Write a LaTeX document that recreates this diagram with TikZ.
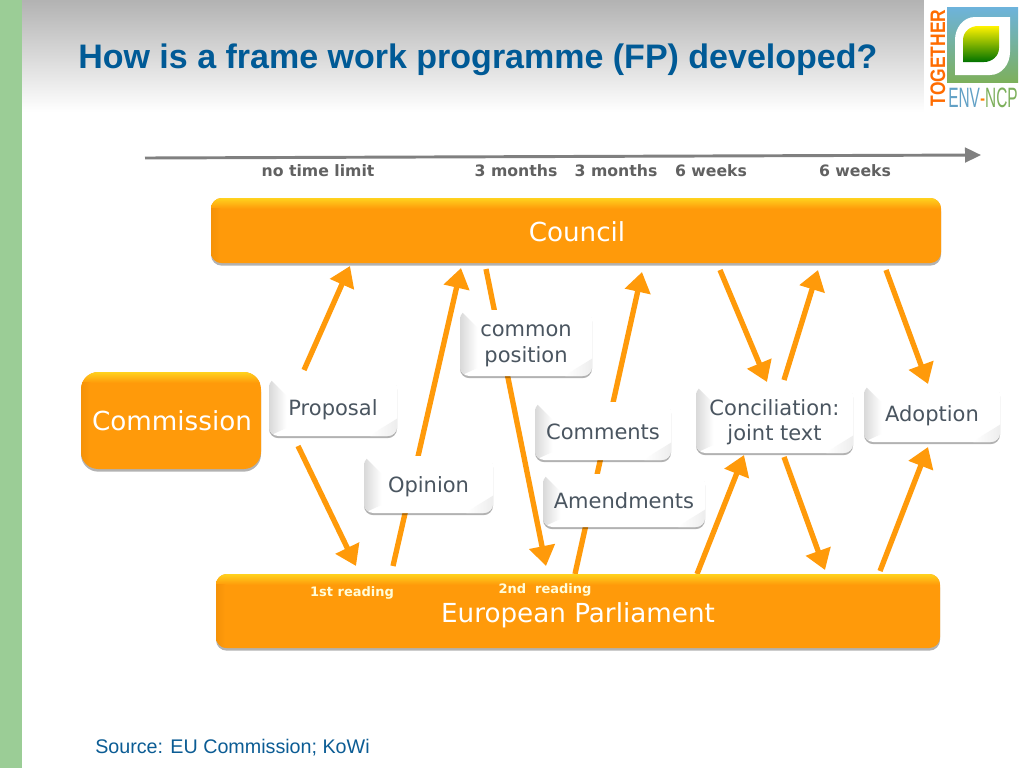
\documentclass[tikz,border=0pt]{standalone}
\usepackage{fontspec}
\usepackage{graphicx}
\setmainfont{DejaVu Sans}
\newfontfamily\arialf{Liberation Sans}
\usetikzlibrary{arrows.meta,shadows}
\definecolor{orng}{HTML}{FF9A0A}
\definecolor{orngd}{HTML}{F59208}
\definecolor{bandtop}{HTML}{FFD21E}
\definecolor{slate}{HTML}{4A5560}
\definecolor{ttl}{HTML}{005A96}
\definecolor{src}{HTML}{0B5C94}
\definecolor{stripgreen}{HTML}{9BCD96}
\newcommand{\pxfont}[1]{\fontsize{\dimexpr #1pt*3/4\relax}{\dimexpr #1pt*9/10\relax}\selectfont}
\tikzset{
  x=0.75pt,y=-0.75pt,
  orangebox/.style={rounded corners=8pt,fill=orng,text=white,align=center,inner sep=0pt,
    drop shadow={shadow xshift=0pt,shadow yshift=-2pt,fill=black,opacity=.3},
    path picture={
      \begin{scope}[sharp corners]
      \shade[top color=bandtop,bottom color=orng]
        (path picture bounding box.north west) rectangle ([yshift=-8pt]path picture bounding box.north east);
      \shade[left color=orngd,right color=orng]
        ([yshift=-8pt]path picture bounding box.north west) rectangle ([xshift=7pt]path picture bounding box.south west);
      \end{scope}
    }},
  whitebox/.style={rounded corners=7pt,fill=white,text=slate,align=center,inner sep=0pt,
    drop shadow={shadow xshift=0pt,shadow yshift=-1.6pt,fill=black,opacity=.3},
    path picture={
      \begin{scope}[sharp corners]
      \shade[left color=black!15,right color=white]
        (path picture bounding box.north west) -- ([xshift=13pt,yshift=-13pt]path picture bounding box.north west)
        -- ([xshift=13pt,yshift=6pt]path picture bounding box.south west) -- (path picture bounding box.south west) -- cycle;
      \shade[left color=white,right color=black!7]
        (path picture bounding box.south east) -- ([yshift=13pt]path picture bounding box.south east)
        -- ([xshift=-13pt,yshift=5pt]path picture bounding box.south east) -- ([xshift=-20pt]path picture bounding box.south east) -- cycle;
      \end{scope}
    }},
  oneline/.style={text height=12.3pt,text depth=0pt},
  flow/.style={draw=orng,line width=4pt,-{Triangle[length=15pt,width=19pt]}},
  timelabel/.style={font=\bfseries\pxfont{15.7},text=black!62,inner sep=0pt},
  readlabel/.style={font=\bfseries\pxfont{13},text=yellow!15,inner sep=0pt},
  boxtext/.style={font=\pxfont{21}},
  bigtext/.style={font=\pxfont{26.2}},
}
\begin{document}
\begin{tikzpicture}
\useasboundingbox (0,0) rectangle (1024,768);
\fill[white] (0,0) rectangle (1024,768);
\shade[top color=black!30,bottom color=white] (22,0) rectangle (1024,112);
\fill[white] (924,0) rectangle (1024,120);
\fill[stripgreen] (0,0) rectangle (22,768);

% title and source
\node[anchor=west,inner sep=0pt,text=ttl] (title) at (78,60) {\arialf\bfseries\pxfont{34}How is a frame work programme (FP) developed?};
\node[anchor=west,inner sep=0pt,text=src] (source) at (95,748) {\arialf\pxfont{19.7}Source: EU Commission; KoWi};

% logo
\definecolor{logotop}{HTML}{6DB3DC}
\definecolor{logobot}{HTML}{7DB05C}
\shade[top color=logotop,bottom color=logobot] (947,7) rectangle (1018,82);
\fill[white] (1010,17) -- (975,17) to[out=180,in=90] (955,40) -- (955,75) -- (990,75) to[out=0,in=-90] (1010,52) -- cycle;
\shade[top color=yellow!90!orange,bottom color=green!45!black] (999,26) -- (978,26) to[out=180,in=90] (963,40) -- (963,62) -- (984,62) to[out=0,in=-90] (999,48) -- cycle;
\node[rotate=90,inner sep=0pt,text=orange!85!red] (together) at (938,58) {\scalebox{0.83}[1]{\arialf\bfseries\pxfont{21}TOGETHER}};
\node[inner sep=0pt] (envncp) at (983,98) {\scalebox{0.55}[1]{\arialf\pxfont{28}\textcolor{logotop!90!black}{ENV}\textcolor{orange}{-}\textcolor{logobot}{NCP}}};

% timeline
\coordinate (tstart) at (145,158);
\coordinate (tend) at (981,155);
\draw[black!50,line width=2.2pt,-{Triangle[length=12pt,width=11pt]}] (tstart) -- (tend);
\node[timelabel] (t1) at (318,171) {no time limit};
\node[timelabel] (t2) at (516,171) {3 months};
\node[timelabel] (t3) at (616,171) {3 months};
\node[timelabel] (t4) at (711,171) {6 weeks};
\node[timelabel] (t5) at (855,171) {6 weeks};

% arrow ends
\coordinate (a1s) at (304,370);  \coordinate (a1e) at (350,266);
\coordinate (a2s) at (298,446);  \coordinate (a2e) at (356,566);
\coordinate (a3s) at (393,566);  \coordinate (a3e) at (461,268);
\coordinate (a4s) at (486,269);  \coordinate (a4e) at (546,566);
\coordinate (a5s) at (575,574);  \coordinate (a5e) at (642,272);
\coordinate (a6s) at (720,270);  \coordinate (a6e) at (767,382);
\coordinate (a7s) at (784,380);  \coordinate (a7e) at (818,270);
\coordinate (a8s) at (886,270);  \coordinate (a8e) at (928,384);
\coordinate (a9s) at (697,574);  \coordinate (a9e) at (744,455);
\coordinate (a10s) at (784,457); \coordinate (a10e) at (825,570);
\coordinate (a11s) at (880,571); \coordinate (a11e) at (928,447);
\foreach \i in {1,...,11} {\draw[flow] (a\i s) -- (a\i e);}

% boxes
\node[orangebox,minimum width=547.5pt,minimum height=48.75pt] (council) at (576,230.5) {};
\node[bigtext,text=white,inner sep=0pt] (counciltext) at (577,232) {Council};
\node[orangebox,minimum width=543pt,minimum height=55.5pt] (parl) at (578,611) {};
\node[bigtext,text=white,inner sep=0pt] (parltext) at (578,615) {European Parliament};
\node[orangebox,rounded corners=13pt,minimum width=135pt,minimum height=72.75pt] (commission) at (171,420.5) {};
\node[bigtext,text=white,inner sep=0pt] (commtext) at (172,421) {Commission};
\node[readlabel] (r1) at (352,593) {1st reading};
\node[readlabel] (r2) at (545,590) {2nd\ \ reading};

\node[whitebox,boxtext,oneline,minimum width=96pt,minimum height=43.5pt] (proposal) at (333,407) {Proposal};
\node[whitebox,boxtext,oneline,minimum width=96.75pt,minimum height=42.75pt] (opinion) at (428.5,484.5) {Opinion};
\node[whitebox,boxtext,minimum width=99pt,minimum height=49.5pt] (common) at (526,343) {\rule{0pt}{13pt}common\\position};
\node[whitebox,boxtext,oneline,minimum width=102pt,minimum height=43.5pt] (comments) at (603,431) {Comments};
\node[whitebox,boxtext,oneline,minimum width=121.5pt,minimum height=39.75pt] (amend) at (624,500.5) {Amendments};
\node[whitebox,boxtext,minimum width=117.75pt,minimum height=50.25pt] (concil) at (774.5,419.5) {\rule{0pt}{16pt}Conciliation:\\joint text};
\node[whitebox,boxtext,oneline,minimum width=102pt,minimum height=42.75pt] (adopt) at (932,413.5) {Adoption};
\end{tikzpicture}
\end{document}
